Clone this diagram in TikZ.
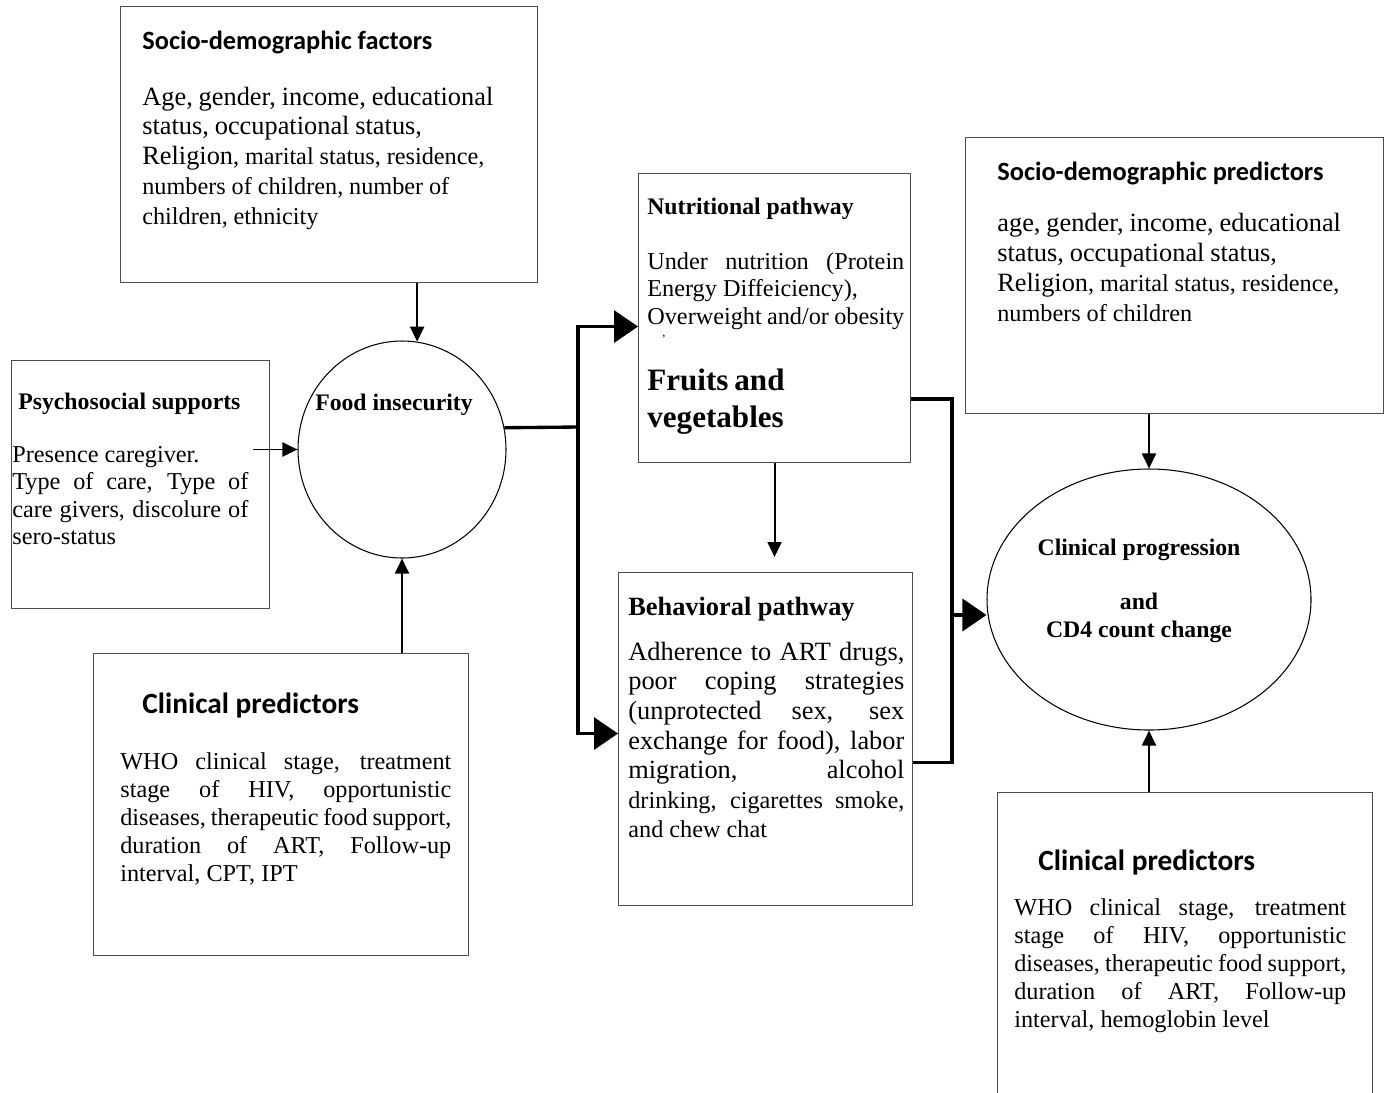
\documentclass[tikz,border=0pt]{standalone}
\usepackage{fontspec}
\setmainfont{Liberation Serif}
\newfontfamily\calibri{Carlito}
\usetikzlibrary{positioning,shapes.geometric,arrows.meta}

\newcommand{\bodyfont}[1][15.9pt]{\normalfont\fontsize{13.8}{#1}\selectfont}
\newcommand{\bigbody}[1][17pt]{\normalfont\fontsize{15}{#1}\selectfont}
\newcommand{\sanstitle}{\calibri\bfseries\fontsize{15}{17}\selectfont}
\newcommand{\clintitle}{\calibri\bfseries\fontsize{16.7}{19}\selectfont}
\newcommand{\seriftitle}{\normalfont\bfseries\fontsize{13.5}{16}\selectfont}

\tikzset{
  box/.style={draw=black!70, line width=0.6pt, rectangle, anchor=north west, inner sep=0pt},
  bubble/.style={draw=black, line width=0.6pt, ellipse, inner sep=0pt},
  txt/.style={anchor=north west, inner sep=0pt, text width=#1, align=justify},
  thinarrow/.style={-{Triangle[length=0.3cm,width=0.28cm]}, line width=1.1pt},
  thickline/.style={line width=1.9pt},
  thickarrow/.style={thickline, -{Triangle[length=0.48cm,width=0.64cm]}},
}

\begin{document}
\begin{tikzpicture}
\useasboundingbox (0,0) rectangle (27.78,-21.84);

% determinants on the left
\node[box, minimum width=8.34cm, minimum height=5.52cm] (socio) at (2.40,-0.12) {};
\node[txt=8cm, align=left, below right=0.5cm and 0.44cm of socio.north west] (sociotxt)
  {\sanstitle Socio-demographic factors\\[14.4pt]
   \bigbody Age, gender, income, educational\\ status, occupational status,\\
   Religion\bodyfont[17pt], marital status, residence,\\ numbers of children, number of\\
   children, ethnicity\par};

\node[box, minimum width=5.16cm, minimum height=4.96cm] (psych) at (0.22,-7.20) {};
\node[txt=4.72cm, below right=0.66cm and 0.02cm of psych.north west] (psychtxt)
  {\seriftitle\hspace*{0.12cm}Psychosocial supports\\[14.4pt]
   \bodyfont[15.6pt] Presence caregiver.\\ Type of care, Type of\linebreak
   care givers, discolure of\linebreak sero-status\par};

\node[box, minimum width=7.50cm, minimum height=6.04cm] (clin1) at (1.86,-13.06) {};
\node[txt=6.62cm, below right=0.8cm and 0.54cm of clin1.north west] (clin1txt)
  {\clintitle\hspace*{0.44cm}Clinical predictors\\[15.8pt]
   \bodyfont WHO clinical stage, treatment\linebreak stage of HIV, opportunistic\linebreak
   diseases, therapeutic food support,\linebreak duration of ART, Follow-up\linebreak
   interval, CPT, IPT\par};

% food insecurity
\node[bubble, minimum width=4.16cm, minimum height=4.34cm] (food) at (8.04,-8.99) {};
\node[font=\seriftitle] (foodlbl) at (7.88,-8.10) {Food insecurity};

% pathways
\node[box, minimum width=5.44cm, minimum height=5.78cm] (nutr) at (12.76,-3.46) {};
\node[txt=5.14cm, below right=0.5cm and 0.18cm of nutr.north west] (nutrtxt)
  {\seriftitle Nutritional pathway\\[15.4pt]
   \bodyfont[15.6pt] Under nutrition (Protein\linebreak Energy Diffeiciency),\\
   Overweight and/or obesity\par};
\node[font=\fontsize{7}{7}\selectfont, inner sep=0pt] (comma) at (13.28,-6.74) {,};
\node[txt=5cm, align=left, below right=3.92cm and 0.18cm of nutr.north west] (fruits)
  {\bfseries\fontsize{17.7}{20.8}\selectfont Fruits and\\ vegetables\par};

\node[box, minimum width=5.88cm, minimum height=6.66cm] (behav) at (12.36,-11.44) {};
\node[txt=5.52cm, below right=0.5cm and 0.2cm of behav.north west] (behavtxt)
  {\normalfont\bfseries\fontsize{15}{17}\selectfont Behavioral pathway\\[8.7pt]
   \bigbody[16.8pt] Adherence to ART drugs,\linebreak poor coping strategies\linebreak
   (unprotected sex, sex\linebreak exchange for food), labor\linebreak migration, alcohol\linebreak
   \bodyfont[16.8pt] drinking, cigarettes smoke,\linebreak and chew chat\par};

% outcome and its predictors
\node[box, minimum width=8.36cm, minimum height=5.52cm] (socio2) at (19.30,-2.74) {};
\node[txt=8cm, align=left, below right=0.5cm and 0.64cm of socio2.north west] (socio2txt)
  {\sanstitle Socio-demographic predictors\\[12pt]
   \bigbody age, gender, income, educational\\ status, occupational status,\\
   Religion\bodyfont[17pt], marital status, residence,\\ numbers of children\par};

\node[bubble, minimum width=6.48cm, minimum height=5.22cm] (ell) at (22.98,-11.99) {};
\node[align=center, font=\seriftitle] (elllbl) at (22.78,-11.82)
  {Clinical progression\\[14.8pt] and\\ CD4 count change};

\node[box, minimum width=7.50cm, minimum height=6.4cm] (clin2) at (19.94,-15.84) {};
\node[txt=6.64cm, below right=1.16cm and 0.34cm of clin2.north west] (clin2txt)
  {\clintitle\hspace*{0.48cm}Clinical predictors\\[9.6pt]
   \bodyfont WHO clinical stage, treatment\linebreak stage of HIV, opportunistic\linebreak
   diseases, therapeutic food support,\linebreak duration of ART, Follow-up\linebreak
   interval, hemoglobin level\par};

% connectors
\coordinate (split) at (11.56,-8.54);
\coordinate (merge) at (19.04,-12.30);

\draw[thinarrow] (socio.south -| food.82) -- (food.82);
\draw[thinarrow] ([xshift=-0.34cm]psych.east |- food.west) -- (food.west);
\draw[thinarrow] (clin1.north -| food.south) -- (food.south);

\draw[thickline] (food.12) -- (split);
\draw[thickarrow] (split) |- ([yshift=-0.17cm]nutr.west);
\draw[thickarrow] (split) |- ([yshift=0.11cm]behav.west);

\draw[thinarrow] (nutr.south) -- ([yshift=0.3cm]behav.north -| nutr.south);

\draw[thickline] ([yshift=1.28cm]nutr.south east) -| (merge) |- ([yshift=-0.47cm]behav.east);
\draw[thickarrow] (merge) -- (merge -| ell.west);

\draw[thinarrow] (socio2.south -| ell.north) -- (ell.north);
\draw[thinarrow] (clin2.north -| ell.south) -- (ell.south);

\end{tikzpicture}
\end{document}
